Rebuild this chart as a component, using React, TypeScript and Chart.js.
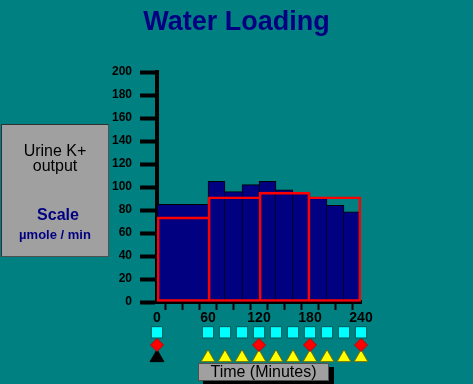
import React, { useEffect, useRef } from "react";
import { Chart, registerables } from "chart.js";

Chart.register(...registerables);

const FONT = '"Liberation Sans", Arial, Helvetica, sans-serif';

// 20-minute collection slots (start minute of each slot)
const slotStarts = [0, 20, 40, 60, 80, 100, 120, 140, 160, 180, 200, 220];

// Urine K+ output bars (µmole / min)
const urineBarStart = [0, 60, 80, 100, 120, 140, 160, 180, 200, 220];
const urineBarEnd = [60, 80, 100, 120, 140, 160, 180, 200, 220, 240];
const urineBarValue = [85, 105, 96, 102, 105, 97.5, 95, 91, 84, 78.5];

// Hourly period averages (red outlined boxes)
const periodStart = [0, 60, 120, 180];
const periodEnd = [60, 120, 180, 240];
const periodValue = [74, 91.5, 95.5, 91.5];

// X tick labels shown
const labeledMinutes = [0, 60, 120, 180, 240];

// Event markers under the axis
const markerLanes = ["urine", "blood", "dose"];
const urineSampleTimes = [0, 60, 80, 100, 120, 140, 160, 180, 200, 220, 240];
const bloodSampleTimes = [0, 120, 180, 240];
const controlTimes = [0];
const waterDoseTimes = [60, 80, 100, 120, 140, 160, 180, 200, 220, 240];

const AXIS_MAX = 240;

type SlotInfo = { value: number; k: number; first: boolean; last: boolean };

function slotTable(starts: number[], ends: number[], values: number[]): SlotInfo[] {
  return slotStarts.map((s, i) => {
    const sEnd = i < slotStarts.length - 1 ? slotStarts[i + 1] : AXIS_MAX;
    const k = starts.findIndex((st, j) => st <= s && s < ends[j]);
    return { value: values[k], k, first: starts[k] === s, last: ends[k] === sEnd };
  });
}

function borderFor(table: SlotInfo[], values: number[], w: number, top: number, bottom: number) {
  return (ctx: any) => {
    const t = table[ctx.dataIndex];
    if (!t) return 0;
    const n = values.length;
    const left = t.first && (t.k === 0 || values[t.k - 1] <= values[t.k]) ? w : 0;
    const right = t.last && (t.k === n - 1 || values[t.k + 1] < values[t.k]) ? w : 0;
    return { left, right, top, bottom };
  };
}

export default function App() {
  const ref = useRef<HTMLCanvasElement>(null);
  const ref2 = useRef<HTMLCanvasElement>(null);

  useEffect(() => {
    const urineTable = slotTable(urineBarStart, urineBarEnd, urineBarValue);
    const periodTable = slotTable(periodStart, periodEnd, periodValue);

    const chart = new Chart(ref.current as HTMLCanvasElement, {
      type: "bar",
      data: {
        labels: slotStarts.map(String),
        datasets: [
          {
            type: "bar",
            label: "Period mean",
            data: periodTable.map((t) => t.value),
            xAxisID: "x",
            yAxisID: "y",
            backgroundColor: "rgba(0,0,0,0)",
            borderColor: "#ff0000",
            borderWidth: borderFor(periodTable, periodValue, 2, 2, 2) as any,
            borderSkipped: false,
            categoryPercentage: 1,
            barPercentage: 1,
            grouped: false,
            order: 1,
          } as any,
          {
            type: "bar",
            label: "Urine K+ output",
            data: urineTable.map((t) => t.value),
            xAxisID: "x",
            yAxisID: "y",
            backgroundColor: "#000080",
            borderColor: "#000000",
            borderWidth: borderFor(urineTable, urineBarValue, 1, 1, 0) as any,
            borderSkipped: false,
            categoryPercentage: 1,
            barPercentage: 1,
            grouped: false,
            order: 2,
          } as any,
        ],
      },
      options: {
        responsive: false,
        animation: false,
        events: [],
        layout: { padding: 0, autoPadding: false },
        plugins: {
          legend: { display: false },
          tooltip: { enabled: false },
          title: {
            display: true,
            text: "Water Loading",
            color: "#000080",
            font: { family: FONT, size: 27, weight: "bold" },
            padding: { top: 6, bottom: 33.6 },
          },
        },
        scales: {
          x: {
            type: "category",
            display: false,
            offset: true,
          },
          xt: {
            type: "linear",
            position: "bottom",
            min: 0,
            max: AXIS_MAX,
            offset: false,
            afterFit: (s: any) => {
              s.height = 82;
            },
            ticks: {
              stepSize: 20,
              autoSkip: false,
              maxRotation: 0,
              padding: 0,
              color: "#000000",
              font: { family: FONT, size: 14, weight: "bold" },
              callback: (v: any) => (labeledMinutes.includes(Number(v)) ? String(v) : ""),
            },
            grid: {
              drawOnChartArea: false,
              drawTicks: true,
              tickLength: 8,
              tickWidth: (ctx: any) => (ctx.index === 0 ? 4 : 2),
              tickColor: "#000000",
            },
            border: { display: true, color: "#000000", width: 4 },
          },
          y: {
            type: "linear",
            position: "left",
            min: 0,
            max: 200,
            afterFit: (s: any) => {
              s.width = 157;
            },
            ticks: {
              stepSize: 20,
              padding: 8,
              color: "#000000",
              font: { family: FONT, size: 12, weight: "bold" },
            },
            grid: {
              drawOnChartArea: false,
              drawTicks: true,
              tickLength: 17,
              tickWidth: 4,
              tickColor: "#000000",
            },
            border: { display: true, color: "#000000", width: 4 },
          },
          yr: {
            type: "linear",
            position: "right",
            display: true,
            afterFit: (s: any) => {
              s.width = 112;
            },
            ticks: { display: false },
            grid: { display: false, drawTicks: false },
            border: { display: false },
          },
        },
      } as any,
    });

    const markers = new Chart(ref2.current as HTMLCanvasElement, {
      type: "scatter",
      data: {
        datasets: [
          {
            label: "Urine samples",
            data: urineSampleTimes.map((t) => ({ x: t, y: markerLanes[0] })),
            pointStyle: "rect",
            pointRadius: 8,
            backgroundColor: "#00ffff",
            borderColor: "#005858",
            borderWidth: 1,
            clip: false,
          },
          {
            label: "Blood samples",
            data: bloodSampleTimes.map((t) => ({ x: t, y: markerLanes[1] })),
            pointStyle: "rectRot",
            pointRadius: 6.5,
            backgroundColor: "#ff0000",
            borderColor: "#c00000",
            borderWidth: 1,
            clip: false,
          },
          {
            label: "Control",
            data: controlTimes.map((t) => ({ x: t, y: markerLanes[2] })),
            pointStyle: "triangle",
            pointRadius: 8,
            backgroundColor: "#000000",
            borderColor: "#000000",
            borderWidth: 1,
            clip: false,
          },
          {
            label: "Water doses",
            data: waterDoseTimes.map((t) => ({ x: t, y: markerLanes[2] })),
            pointStyle: "triangle",
            pointRadius: 8,
            backgroundColor: "#ffff00",
            borderColor: "#707000",
            borderWidth: 1,
            clip: false,
          },
        ] as any,
      },
      options: {
        responsive: false,
        animation: false,
        events: [],
        layout: { padding: { left: 157, right: 112, top: 0, bottom: 0 }, autoPadding: false },
        plugins: { legend: { display: false }, tooltip: { enabled: false } },
        scales: {
          x: { type: "linear", min: 0, max: AXIS_MAX, display: false },
          y: { type: "category", labels: markerLanes, offset: true, display: false },
        },
      } as any,
    });

    return () => {
      chart.destroy();
      markers.destroy();
    };
  }, []);

  const navy = "#000080";
  return (
    <div
      style={{
        position: "absolute",
        left: 0,
        top: 0,
        width: 473,
        height: 384,
        background: "#008080",
        overflow: "hidden",
        fontFamily: FONT,
      }}
    >
      <canvas ref={ref} width={473} height={384} style={{ position: "absolute", left: 0, top: 0 }} />
      <canvas ref={ref2} width={473} height={38} style={{ position: "absolute", left: 0, top: 325.6 }} />
      <div
        style={{
          position: "absolute",
          left: 1,
          top: 124,
          width: 108,
          height: 133,
          boxSizing: "border-box",
          background: "#a0a0a0",
          borderTop: "1px solid #303030",
          borderLeft: "1px solid #303030",
          borderRight: "1px solid #505050",
          borderBottom: "1px solid #505050",
        }}
      />
      <div style={{ position: "absolute", left: 1, width: 108, top: 143, textAlign: "center", fontSize: 16, lineHeight: "16px", color: "#000" }}>
        Urine K+
      </div>
      <div style={{ position: "absolute", left: 1, width: 108, top: 157.5, textAlign: "center", fontSize: 16, lineHeight: "16px", color: "#000" }}>
        output
      </div>
      <div style={{ position: "absolute", left: 4, width: 108, top: 207, textAlign: "center", fontSize: 16, lineHeight: "16px", fontWeight: "bold", color: navy }}>
        Scale
      </div>
      <div style={{ position: "absolute", left: 1, width: 108, top: 228, textAlign: "center", fontSize: 13, lineHeight: "13px", fontWeight: "bold", color: navy }}>
        µmole / min
      </div>
      <div
        style={{
          position: "absolute",
          left: 198,
          top: 363,
          width: 131,
          height: 18,
          boxSizing: "border-box",
          background: "#a0a0a0",
          border: "1px solid #505050",
          boxShadow: "5px 4px 0 #000000",
          textAlign: "center",
          fontSize: 16,
          lineHeight: "16px",
          color: "#000",
        }}
      >
        Time (Minutes)
      </div>
    </div>
  );
}
